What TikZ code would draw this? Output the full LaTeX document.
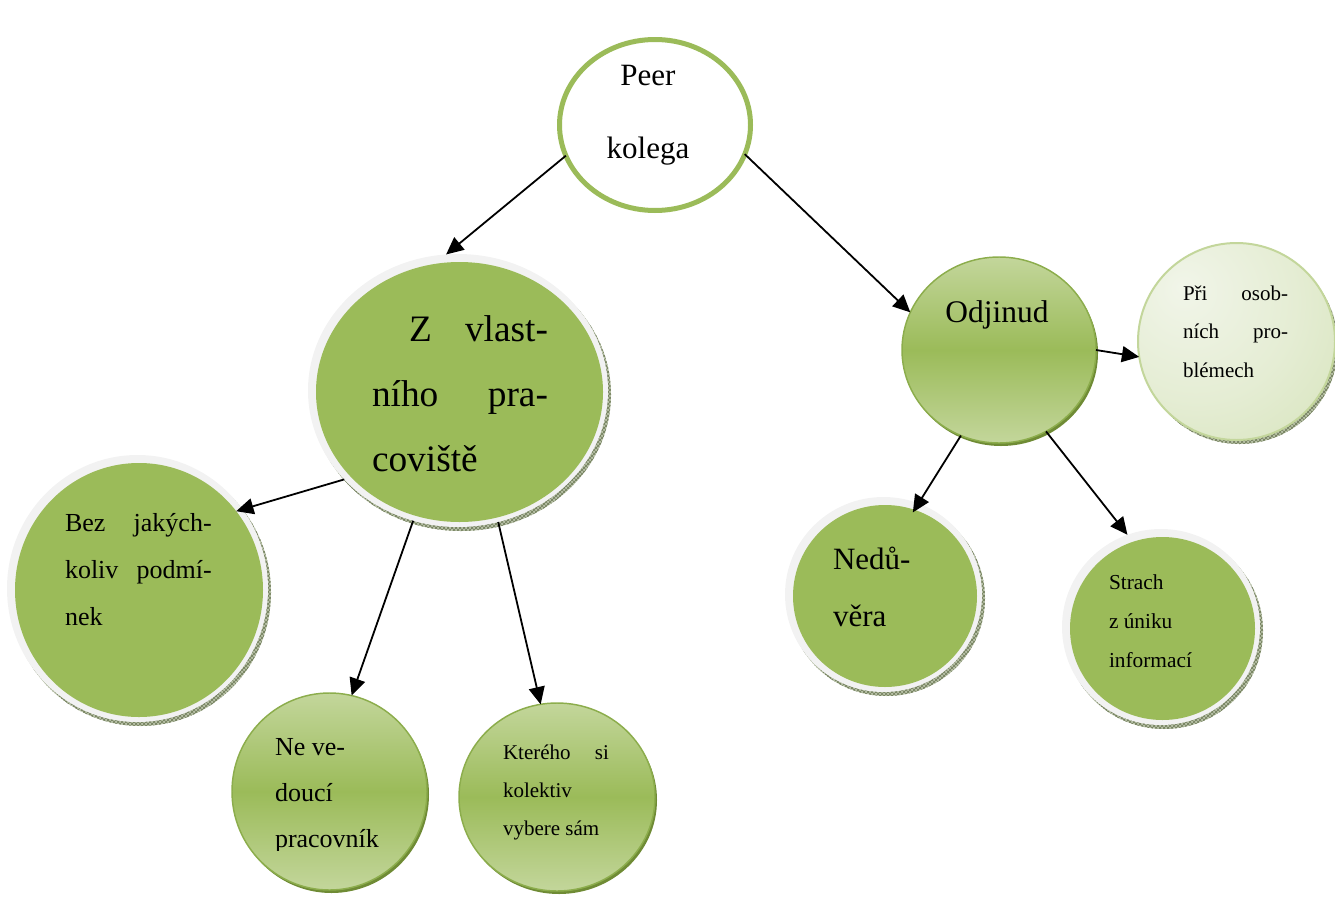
\documentclass[tikz,border=0pt]{standalone}
\usepackage{fontspec}
\setmainfont{Liberation Serif}
\usetikzlibrary{shapes.geometric,arrows.meta,patterns}
\definecolor{ogreen}{HTML}{9BBB59}
\definecolor{lgreen}{HTML}{C3D69B}
\definecolor{ringgrey}{HTML}{F2F2F2}
\definecolor{hatchbg}{HTML}{B9C2A8}
\definecolor{hatchline}{HTML}{6E7B58}
\definecolor{gborder}{HTML}{8CAD4C}
\definecolor{gshadow}{HTML}{6F8B35}
\definecolor{paleA}{HTML}{F1F5E9}
\definecolor{paleB}{HTML}{E5EDD4}
\definecolor{paleC}{HTML}{CCDDAA}
\pgfdeclareradialshading{paleshade}{\pgfpoint{-14bp}{14bp}}{color(0bp)=(paleA);color(25bp)=(paleB);color(62bp)=(paleC);color(90bp)=(paleC)}
\tikzset{
  disc/.style={ellipse, inner sep=0pt, outer sep=0pt},
  txt/.style={inner sep=0pt, outer sep=0pt, anchor=base west},
  ctxt/.style={inner sep=0pt, outer sep=0pt, anchor=base},
  arr/.style={-{Triangle[length=13pt,width=12pt]}, line width=1.35pt, black},
}
% ring disc: name, cx, cy, rx, ry
\newcommand{\ringdisc}[5]{%
  \fill[hatchbg] (#2+3,#3+4) ellipse [x radius=#4*0.75pt, y radius=#5*0.75pt];
  \fill[pattern=crosshatch, pattern color=hatchline] (#2+3,#3+4) ellipse [x radius=#4*0.75pt, y radius=#5*0.75pt];
  \node[disc, fill=ringgrey, minimum width=2*#4*0.75pt, minimum height=2*#5*0.75pt] (#1) at (#2,#3) {};
  \fill[ogreen] (#2+1.5,#3+1.5) ellipse [x radius=(#4-6.5)*0.75pt, y radius=(#5-6.5)*0.75pt];
}
% gradient disc: name, cx, cy, rx, ry
\newcommand{\gradisc}[5]{%
  \fill[gshadow] (#2+2,#3+3) ellipse [x radius=#4*0.75pt, y radius=#5*0.75pt];
  \node[disc, top color=lgreen, bottom color=lgreen, middle color=ogreen, draw=gborder, line width=1.1pt, minimum width=2*#4*0.75pt, minimum height=2*#5*0.75pt] (#1) at (#2,#3) {};
}
\begin{document}
\begin{tikzpicture}[x=0.75pt,y=-0.75pt]
\useasboundingbox (0,0) rectangle (1335,896);

% Peer
\node[disc, fill=white, draw=ogreen, line width=3.75pt, minimum width=191*0.75pt, minimum height=171*0.75pt] (peer) at (655,125) {};

% ring discs
\ringdisc{zv}{458}{390.5}{150}{136.5}
\ringdisc{bez}{137.5}{588.5}{130.5}{133.5}
\ringdisc{ned}{883.5}{594.5}{98.5}{97.5}
\ringdisc{str}{1161}{627}{99}{98}

% gradient discs
\gradisc{ne}{329.5}{791.5}{97.5}{98.5}
\gradisc{kt}{557}{797}{98}{94}
\gradisc{odj}{999}{350}{97}{93}

% pale disc
\fill[hatchbg] (1239.5,345.5) ellipse [x radius=98.5*0.75pt, y radius=98.5*0.75pt];
\fill[pattern=crosshatch, pattern color=hatchline] (1239.5,345.5) ellipse [x radius=98.5*0.75pt, y radius=98.5*0.75pt];
\node[disc, shading=paleshade, draw=lgreen, line width=1.5pt, minimum width=197*0.75pt, minimum height=197*0.75pt] (pri) at (1236.5,341.5) {};

% arrows
\draw[arr] (peer.199) -- (zv.95);
\draw[arr] (peer.342) -- (odj.157);
\draw[arr, shorten >=-5pt] (zv.218) -- (bez.37);
\draw[arr] (zv.251) -- (ne.77);
\draw[arr] (zv.287) -- (kt.100);
\draw[arr] (odj.0) -- (pri.189);
\draw[arr, shorten >=-8pt] (odj.246) -- (ned.69);
\draw[arr] (odj.300) -- (str.110);

% texts
\node[ctxt] (tpeer) at (648,85) {\parbox[t]{120pt}{\centering\fontsize{23.25}{54.75}\selectfont Peer\\kolega}};
\node[txt] (tzv) at (372,341) {\parbox[t]{132pt}{\fontsize{28}{49}\selectfont\makebox[\linewidth][s]{\hspace{27.75pt}Z vlast-}\\\makebox[\linewidth][s]{ního pra-}\\coviště}};
\node[txt] (tbez) at (65,531) {\parbox[t]{110pt}{\fontsize{19.5}{35.25}\selectfont\makebox[\linewidth][s]{Bez jakých-}\\\makebox[\linewidth][s]{koliv podmí-}\\nek}};
\begin{scope}
\clip (0,0) rectangle (1335,850.5);
\node[txt] (tne) at (275,755) {\parbox[t]{120pt}{\fontsize{19.5}{34.5}\selectfont Ne ve-\\doucí\\pracovník}};
\end{scope}
\node[txt] (tkt) at (503,759) {\parbox[t]{79.5pt}{\fontsize{15.75}{28.5}\selectfont\makebox[\linewidth][s]{Kterého si}\\kolektiv\\vybere sám}};
\node[ctxt] (todj) at (997,322) {\fontsize{23.6}{28}\selectfont Odjinud};
\node[txt] (tpri) at (1183,300) {\parbox[t]{78.75pt}{\fontsize{15.75}{28.9}\selectfont\makebox[\linewidth][s]{Při osob-}\\\makebox[\linewidth][s]{ních pro-}\\blémech}};
\node[txt] (tned) at (833,569) {\parbox[t]{80pt}{\fontsize{23.25}{42.75}\selectfont Nedů-\\věra}};
\node[txt] (tstr) at (1109,589) {\parbox[t]{90pt}{\fontsize{16}{29.25}\selectfont Strach\\z úniku\\informací}};
\end{tikzpicture}
\end{document}
